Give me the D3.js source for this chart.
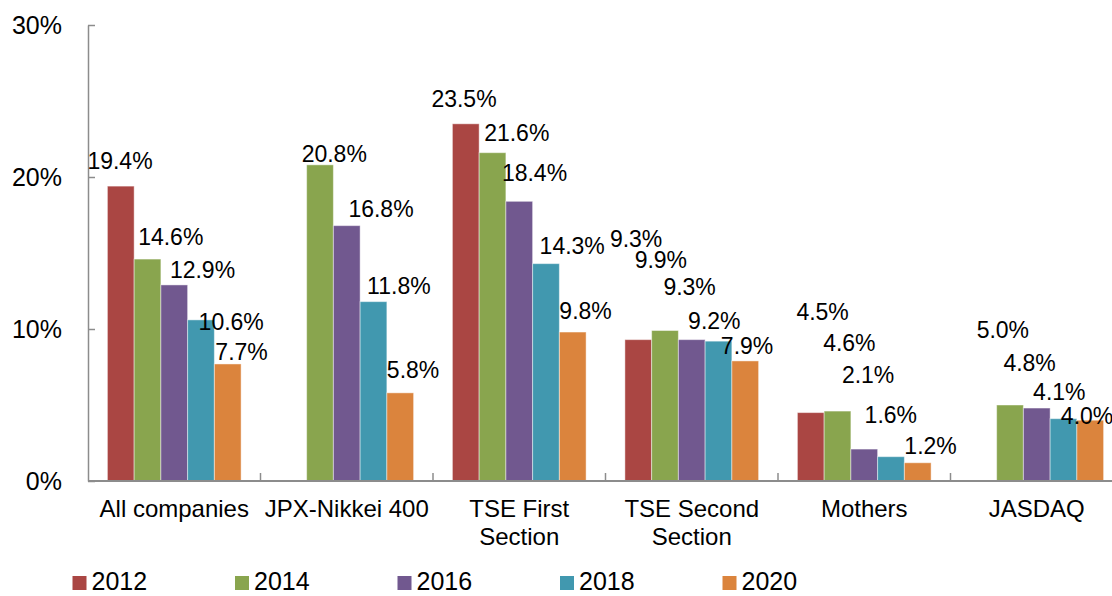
<!DOCTYPE html>
<html>
<head>
<meta charset="utf-8">
<script src="https://cdn.jsdelivr.net/npm/d3@7"></script>
<style>
  body { margin: 0; background: #fff; }
  svg { display: block; font-family: Arial, "Liberation Sans", sans-serif; }
</style>
</head>
<body>
<div id="chart-area"></div>
<script>
// data (percent), null = no bar
const categories = ["All companies", "JPX-Nikkei 400", "TSE First Section", "TSE Second Section", "Mothers", "JASDAQ"]
const categoryLines = [["All companies"], ["JPX-Nikkei 400"], ["TSE First", "Section"], ["TSE Second", "Section"], ["Mothers"], ["JASDAQ"]]
const years = ["2012", "2014", "2016", "2018", "2020"]
const s2012 = [19.4, null, 23.5, 9.3, 4.5, null]
const s2014 = [14.6, 20.8, 21.6, 9.9, 4.6, 5.0]
const s2016 = [12.9, 16.8, 18.4, 9.3, 2.1, 4.8]
const s2018 = [10.6, 11.8, 14.3, 9.2, 1.6, 4.1]
const s2020 = [7.7, 5.8, 9.8, 7.9, 1.2, 4.0]
const yTicks = [0, 10, 20, 30]

const colors = ["#AA4643", "#89A54E", "#71588F", "#4198AF", "#DB843D"]

// label nudges [dx from bar left, dy from bar top], copies the hand-placed labels
const nudge = [
  [[-20, -17], null, [-21, -17], [-15, -93], [-1, -93], null],
  [[4, -14], [-5, -3], [5, -12], [-17, -63], [-1, -60], [-20, -67]],
  [[9, -7], [15, -9], [-4, -20], [-15, -45], [-9, -66], [-20, -37]],
  [[11, 10], [7, -8], [7, -10], [-17, -12], [-13, -34], [-17, -19]],
  [[1, -4], [0, -15], [0, -13], [-11, -7], [0, -9], [-16, 4]]
]

const seriesVals = [s2012, s2014, s2016, s2018, s2020]

const WIDTH = 1112, HEIGHT = 596
const LEFT = 88, TOP = 25, BOTTOM = 481
const CAT_W = 172.5
const GROUP_PAD = 19.4

const svg = d3.select("#chart-area").append("svg")
  .attr("width", WIDTH)
  .attr("height", HEIGHT)

const x0 = d3.scaleBand()
  .domain(categories)
  .range([LEFT, LEFT + CAT_W * categories.length])

const x1 = d3.scaleBand()
  .domain(years)
  .range([GROUP_PAD, CAT_W - GROUP_PAD])

const y = d3.scaleLinear()
  .domain([0, 30])
  .range([BOTTOM, TOP])

// y axis
const yAxisCall = d3.axisLeft(y)
  .tickValues(yTicks)
  .tickSize(-7)
  .tickSizeOuter(0)
  .tickPadding(26)
  .tickFormat(d => d + "%")

const yAxisGroup = svg.append("g")
  .attr("transform", `translate(${LEFT}, 0)`)
  .call(yAxisCall)
yAxisGroup.selectAll("path, line").attr("stroke", "#8c8c8c").attr("stroke-width", 1.5)
yAxisGroup.selectAll("text")
  .attr("font-size", "25px")
  .attr("font-family", "Arial, 'Liberation Sans', sans-serif")
  .attr("fill", "#000")

// bars
const flat = []
seriesVals.forEach((vals, s) => {
  vals.forEach((v, c) => {
    if (v !== null) flat.push({cat: categories[c], year: years[s], value: v, s: s, c: c})
  })
})

svg.append("g").selectAll("rect")
  .data(flat)
  .enter().append("rect")
  .attr("x", d => x0(d.cat) + x1(d.year))
  .attr("y", d => y(d.value))
  .attr("width", x1.bandwidth())
  .attr("height", d => y(0) - y(d.value))
  .attr("fill", d => colors[d.s])
  .attr("stroke", "#fff")
  .attr("stroke-opacity", 0.45)
  .attr("stroke-width", 1)

// x axis line + category boundary ticks
svg.append("line")
  .attr("x1", LEFT).attr("x2", WIDTH)
  .attr("y1", y(0)).attr("y2", y(0))
  .attr("stroke", "#8c8c8c").attr("stroke-width", 2)

svg.append("g").selectAll("line")
  .data(categories.slice(1))
  .enter().append("line")
  .attr("x1", d => x0(d)).attr("x2", d => x0(d))
  .attr("y1", y(0)).attr("y2", y(0) - 8)
  .attr("stroke", "#8c8c8c").attr("stroke-width", 1.5)

// category labels
const catText = svg.append("g").selectAll("text")
  .data(categories)
  .enter().append("text")
  .attr("x", d => x0(d) + x0.bandwidth() / 2)
  .attr("y", 517)
  .attr("text-anchor", "middle")
  .attr("font-size", "24px")
  .attr("fill", "#000")

catText.each(function (d, i) {
  const t = d3.select(this)
  categoryLines[i].forEach((line, j) => {
    t.append("tspan")
      .attr("x", x0(d) + x0.bandwidth() / 2)
      .attr("y", 517 + j * 28)
      .text(line)
  })
})

// value labels
svg.append("g").selectAll("text")
  .data(flat)
  .enter().append("text")
  .attr("x", d => x0(d.cat) + x1(d.year) + nudge[d.s][d.c][0])
  .attr("y", d => y(d.value) + nudge[d.s][d.c][1])
  .attr("font-size", "23px")
  .attr("fill", "#000")
  .text(d => d.value.toFixed(1) + "%")

// legend
const legend = svg.append("g").selectAll("g")
  .data(years)
  .enter().append("g")
  .attr("transform", (d, i) => `translate(${72.5 + i * 162.5}, 0)`)

legend.append("rect")
  .attr("x", 0).attr("y", 576)
  .attr("width", 14).attr("height", 14)
  .attr("fill", (d, i) => colors[i])

legend.append("text")
  .attr("x", 19).attr("y", 590)
  .attr("font-size", "25px")
  .attr("fill", "#000")
  .text(d => d)
</script>
</body>
</html>
